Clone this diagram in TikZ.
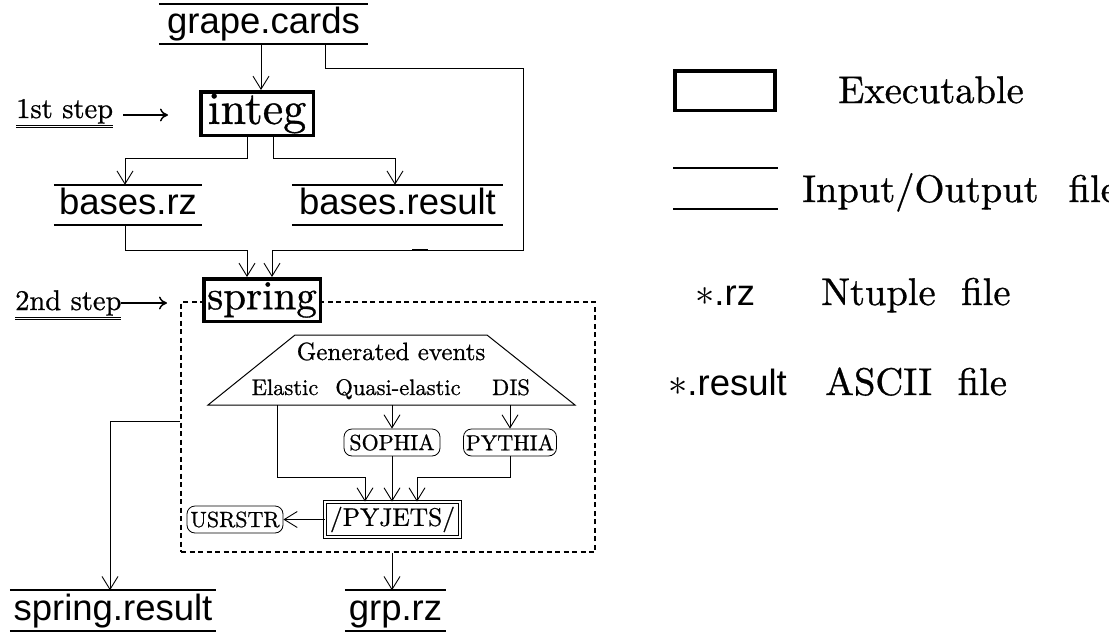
\RequirePackage{fix-cm}
\documentclass[tikz,border=0pt]{standalone}
\usepackage{fontspec}
\setmainfont{lmroman10-regular}[Extension=.otf, FakeBold=0.8]
\newfontfamily\sansf{Liberation Sans}
\usetikzlibrary{arrows.meta,calc}
\begin{document}
\begin{tikzpicture}[x=1pt,y=-1pt,
  exe/.style={draw, line width=3.5pt, inner sep=0pt},
  iofile/.style={inner sep=0pt, minimum height=40pt, text height=27pt, text depth=8pt, font=\sansf\fontsize{36.5}{40}\selectfont},
  fileline/.style={line width=2.2pt},
  conn/.style={line width=0.9pt},
  arr/.style={conn, -{Straight Barb[length=13pt,width=16pt]}},
  steparr/.style={line width=1.5pt, -{Computer Modern Rightarrow[length=8pt,width=13pt]}},
  prog/.style={draw, rounded corners=8pt, line width=0.8pt, inner sep=0pt, minimum height=27pt, font=\fontsize{22}{24}\selectfont},
  dbox/.style={draw, dash pattern=on 5pt off 3.5pt, line width=1.8pt},
  lbl/.style={inner sep=0pt, font=\fontsize{22.5}{24}\selectfont},
  legtxt/.style={anchor=base west, inner sep=0pt, font=\fontsize{38.5}{40}\selectfont},
  steplbl/.style={anchor=base west, inner sep=0pt, font=\fontsize{28.5}{30}\selectfont}]
\useasboundingbox (0,0) rectangle (1109,635);

% file nodes
\node[iofile, minimum width=209pt] (gc) at (263.5,24) {grape.cards};
\node[iofile, minimum width=148pt] (brz) at (128,205) {bases.rz};
\node[iofile, minimum width=211pt] (bres) at (397.5,205) {bases.result};
\node[iofile, minimum width=206pt] (sres) at (113,610.5) {spring.result};
\node[iofile, minimum width=101pt] (grz) at (395.5,610.5) {grp.rz};
\foreach \n in {gc,brz,bres,sres,grz}{
  \draw[fileline] (\n.north west) -- (\n.north east) (\n.south west) -- (\n.south east);
}

% executables
\node[exe, minimum width=112.5pt, minimum height=43.5pt, font=\fontsize{46}{48}\selectfont] (integ) at (257,113.5) {integ};
\node[dbox, minimum width=414pt, minimum height=250pt, inner sep=0pt] (box) at (388,427) {};
\node[exe, fill=white, minimum width=116.5pt, minimum height=42.5pt, font=\fontsize{41}{44}\selectfont] (spring) at (262,300) {spring};

% step labels
\node[steplbl] (s1) at (16,118) {\underline{\underline{1st step}}};
\node[steplbl] (s2) at (15,310) {\underline{\underline{2nd step}}};
\coordinate (a1s) at (123,115);
\coordinate (a1e) at (168,115);
\coordinate (a2s) at (121,303);
\coordinate (a2e) at (167,303);
\draw[steparr] (a1s) -- (a1e);
\draw[steparr] (a2s) -- (a2e);

% top connectors
\coordinate (g0) at ([xshift=-2.5pt]gc.south);
\draw[arr] (g0) -- (g0 |- integ.north);
\coordinate (k1) at (523,68);
\coordinate (k2) at (523,250);
\draw[arr] ([xshift=61.5pt]gc.south) |- (k1) -- (k2) -| ([xshift=10pt]spring.north);
\draw[line width=1.8pt] (412,250) -- (428,250);
\draw[arr] ([xshift=-10pt]integ.south) -- ++(0,21) -| ([xshift=-3pt]brz.north);
\draw[arr] ([xshift=16pt]integ.south) -- ++(0,21) -| ([xshift=-2.5pt]bres.north);
\draw[arr] ([xshift=-3pt]brz.south) -- ++(0,25) -| ([xshift=-15pt]spring.north);

% generated events
\draw[line width=1pt] (295,335) -- (487,335) -- (575,405) -- (208,405) -- cycle;
\node[lbl, font=\fontsize{25}{26}\selectfont, anchor=base] (gen) at (391,360) {Generated events};
\node[lbl, anchor=base] (el) at (285,395) {Elastic};
\node[lbl, anchor=base] (qe) at (398,395) {Quasi-elastic};
\node[lbl, anchor=base] (dis) at (511,395) {DIS};
\coordinate (tb) at (0,405);
\coordinate (te) at (277,405);

\node[prog, minimum width=96pt] (so) at (392,442.5) {SOPHIA};
\node[prog, minimum width=93pt] (py) at (510,442.5) {PYTHIA};
\node[prog, minimum width=96pt] (us) at (235,519.5) {USRSTR};
\node[draw, double, double distance=2pt, line width=0.8pt, inner sep=0pt, minimum width=135pt, minimum height=35pt, font=\fontsize{25.5}{27}\selectfont] (pj) at (392.5,519.5) {/PYJETS/};

\draw[arr] (so.north |- tb) -- (so.north);
\draw[arr] (py.north |- tb) -- (py.north);
\draw[arr] (so.south) -- (so.south |- pj.north);
\draw[arr] (py.south) -- ++(0,21) -| ([xshift=24.5pt]pj.north);
\draw[arr] (te) -- ++(0,72) -| ([xshift=-27.5pt]pj.north);
\draw[arr] (pj.west) -- (us.east);

% outputs of box
\coordinate (k5) at (0,421);
\draw[arr] (box.west |- k5) -| ([xshift=-3pt]sres.north);
\coordinate (g1) at ([xshift=-3.5pt]grz.north);
\draw[arr] (g1 |- box.south) -- (g1);

% legend
\node[draw, line width=3.5pt, minimum width=100pt, minimum height=39.5pt, inner sep=0pt] (lexe) at (725,90.5) {};
\node[legtxt] (lexet) at (838,103) {Executable};
\draw[fileline] (673,168) -- (778,168) (673,209) -- (778,209);
\node[legtxt] (liot) at (802,202) {Input/Output\hspace{30pt}file};
\node[legtxt] (lrz) at (695,305) {$\ast${\sansf\fontsize{36.5}{40}\selectfont .rz}};
\node[legtxt] (lrzt) at (821,305) {Ntuple\ \ file};
\node[legtxt] (lres) at (668,395) {$\ast${\sansf\fontsize{36.5}{40}\selectfont .result}};
\node[legtxt] (lrest) at (825,395) {ASCII\ \ file};
\end{tikzpicture}
\end{document}
